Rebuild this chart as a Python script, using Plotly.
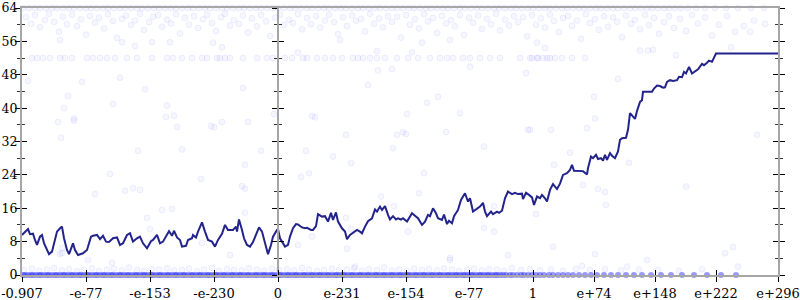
import plotly.graph_objects as go

# ---- axis ticks (x positions are in the chart's own ordinal units) ----
X_TICKS = [-256, -192, -128, -64, 0, 64, 128, 191, 255, 316, 377, 438, 500]
X_LABELS = ["-0.907", "-e-77", "-e-153", "-e-230", "0", "e-231", "e-154",
            "e-77", "1", "e+74", "e+148", "e+222", "e+296"]
Y_TICKS = [0, 8, 16, 24, 32, 40, 48, 56, 64]
Y_MINOR = [4, 12, 20, 28, 36, 44, 52, 60]

# ---- main line ----
LINE_X = [-256, -250, -248, -245, -243, -241, -238, -236, -234, -232,
          -229, -226, -223, -221, -218, -216, -214, -211, -209, -205,
          -203, -200, -195, -191, -187, -185, -181, -178, -175, -172,
          -169, -165, -161, -158, -155, -151, -148, -145, -141, -138,
          -135, -131, -127, -125, -121, -118, -115, -111, -109, -106,
          -104, -101, -98, -96, -92, -90, -86, -85, -82, -80,
          -76, -73, -70, -66, -63, -60, -56, -53, -50, -45,
          -42, -41, -39, -36, -34, -31, -28, -25, -21, -19,
          -16, -14, -12, -10, -7, -5, -1, 0, 2, 4,
          7, 10, 12, 15, 18, 20, 24, 27, 29, 33,
          35, 38, 40, 44, 47, 50, 53, 55, 58, 60,
          64, 67, 69, 72, 75, 79, 82, 84, 87, 90,
          94, 97, 99, 102, 104, 107, 110, 112, 115, 118,
          120, 123, 125, 129, 131, 134, 137, 140, 144, 147,
          150, 152, 155, 158, 160, 164, 166, 169, 171, 174,
          176, 180, 183, 187, 190, 192, 195, 199, 202, 205,
          207, 209, 213, 215, 219, 221, 224, 227, 230, 234,
          237, 240, 244, 245, 248, 251, 254, 256, 259, 262,
          264, 267, 269, 272, 275, 279, 282, 285, 289, 292,
          294, 296, 300, 305, 309, 310, 313, 315, 318, 320,
          323, 325, 327, 329, 332, 334, 337, 340, 342, 344,
          348, 350, 352, 354, 357, 359, 362, 364, 365, 370,
          374, 376, 379, 382, 385, 387, 389, 392, 395, 399,
          401, 404, 406, 408, 411, 414, 417, 420, 424, 426,
          429, 431, 434, 438, 500]
LINE_Y = [9.6, 11.0, 9.8, 9.9, 8.4, 7.2, 9.2, 9.6, 7.6, 6.4,
          5.0, 5.6, 8.8, 10.4, 11.2, 11.6, 8.8, 6.0, 5.0, 7.6,
          6.0, 4.8, 5.2, 6.0, 9.2, 9.4, 9.6, 8.6, 9.4, 8.0,
          7.9, 8.8, 9.0, 7.2, 7.6, 9.6, 10.0, 8.0, 8.8, 9.2,
          7.6, 6.4, 8.1, 8.4, 9.6, 7.6, 8.0, 9.8, 10.5, 9.4,
          10.6, 9.0, 8.4, 6.8, 7.0, 8.4, 8.8, 9.6, 9.0, 10.4,
          12.6, 10.4, 8.4, 8.0, 6.8, 8.4, 9.9, 12.0, 10.8, 10.8,
          11.6, 10.4, 13.3, 10.8, 8.8, 7.2, 6.8, 7.9, 10.4, 11.4,
          10.4, 8.4, 6.4, 5.0, 7.2, 9.2, 10.8, 11.0, 8.8, 8.0,
          6.8, 7.2, 9.2, 11.2, 12.2, 12.1, 11.4, 11.2, 11.3, 10.8,
          10.8, 11.7, 14.6, 14.0, 14.1, 12.8, 14.9, 13.2, 15.0, 12.8,
          11.2, 10.4, 8.6, 9.6, 10.1, 10.8, 10.4, 10.0, 11.6, 12.9,
          13.6, 15.7, 15.2, 16.4, 15.6, 16.5, 14.4, 13.3, 14.1, 13.3,
          13.6, 13.3, 13.6, 12.8, 13.6, 14.8, 14.2, 13.6, 12.0, 12.8,
          14.4, 14.1, 16.0, 14.8, 13.6, 13.2, 14.5, 12.2, 13.0, 12.4,
          14.1, 15.6, 18.0, 19.6, 17.6, 18.4, 15.2, 16.0, 16.4, 17.3,
          15.2, 14.1, 15.2, 14.6, 15.2, 14.9, 15.4, 18.4, 20.0, 19.4,
          19.7, 19.4, 19.5, 18.2, 19.7, 19.2, 18.6, 16.8, 18.8, 18.4,
          19.2, 18.4, 17.6, 20.4, 21.8, 20.6, 21.9, 24.0, 24.4, 25.2,
          26.4, 25.0, 25.0, 24.9, 24.1, 25.6, 28.4, 28.0, 28.8, 27.8,
          28.0, 27.4, 28.8, 27.6, 29.2, 28.6, 28.0, 29.6, 32.4, 32.8,
          32.9, 34.8, 38.8, 38.3, 37.4, 39.3, 41.5, 41.9, 43.9, 43.9,
          43.9, 44.7, 45.4, 45.3, 44.9, 45.0, 46.3, 46.7, 46.5, 46.7,
          47.5, 47.4, 48.7, 48.3, 49.9, 48.3, 48.7, 49.3, 50.6, 50.3,
          50.9, 51.4, 51.1, 53.1, 53.1]

# ---- faint scatter samples ----
BAND0_X = [-255, -253, -250, -247, -245, -242, -239, -237, -234, -231, -229, -226,
           -223, -221, -218, -215, -213, -210, -207, -205, -202, -199, -197, -194,
           -191, -189, -186, -183, -181, -178, -175, -173, -170, -167, -165, -162,
           -159, -157, -154, -151, -149, -146, -143, -141, -138, -135, -133, -130,
           -127, -125, -122, -119, -117, -114, -111, -109, -106, -103, -101, -98,
           -95, -93, -90, -87, -85, -82, -79, -77, -74, -71, -69, -66, -63, -61,
           -58, -55, -53, -50, -47, -45, -42, -39, -37, -34, -31, -29, -26, -23,
           -21, -18, -15, -13, -10, -7, -5, -2, 1, 3, 6, 9, 11, 14, 17, 19, 22, 25,
           27, 30, 33, 35, 38, 41, 43, 46, 49, 51, 54, 57, 59, 62, 65, 67, 70, 73,
           75, 78, 81, 83, 86, 89, 91, 94, 97, 99, 102, 105, 107, 110, 113, 115,
           118, 121, 123, 126, 129, 131, 134, 137, 139, 142, 145, 147, 150, 153,
           155, 158, 161, 163, 166, 169, 171, 174, 177, 179, 182, 185, 187, 190,
           193, 195, 198, 201, 203, 206, 209, 211, 214, 217, 219, 222, 225, 228,
           232, 235, 239, 243, 246, 250, 254, 258, 262, 266, 271, 275, 280, 285,
           290, 295, 301, 307, 313, 319, 326, 333, 340, 348, 356, 364, 373, 383,
           393, 404, 416, 429, 443, 458]

BAND1_X = [-254, -246, -239, -231, -224, -216, -209, -201, -194, -186,
           -179, -171, -164, -156, -149, -141, -134, -126, -119, -111,
           -104, -96, -89, -81, -74, -66, -59, -51, -44, -36,
           -29, -21, -14, -6, 1, 9, 16, 24, 31, 39,
           46, 54, 61, 69, 76, 84, 91, 99, 106, 114,
           121, 129, 136, 144, 151, 159, 166, 174, 181, 189,
           196, 204, 211, 219, 226, 234, 243, 252, 262, 273,
           285, 298, 312, 327, 343, 361, 380, 401, 424]
BAND1_Y = [1.2, 1.5, 1.0, 1.3, 1.7, 1.1, 1.4, 0.9, 1.2, 1.6,
           1.0, 1.3, 1.5, 1.1, 1.8, 1.2, 1.0, 1.4, 1.3, 1.6,
           1.1, 1.2, 1.5, 0.9, 1.3, 1.7, 1.0, 1.4, 1.2, 1.1,
           1.6, 1.3, 1.0, 1.5, 1.2, 1.4, 1.1, 1.7, 1.3, 1.0,
           1.2, 1.5, 1.1, 1.3, 1.6, 1.0, 1.4, 1.2, 1.8, 1.1,
           1.3, 1.0, 1.5, 1.2, 1.4, 1.1, 1.6, 1.3, 1.0, 1.2,
           1.5, 1.1, 1.4, 1.3, 1.0, 1.7, 1.2, 1.4, 1.1, 1.3,
           1.0, 1.5, 1.2, 1.4, 1.1, 1.3, 1.2, 1.0, 1.4]

TOP_X = [-255, -249, -243, -238, -232, -226, -221, -215, -209, -204, -198, -192,
         -187, -181, -175, -170, -164, -158, -153, -147, -141, -136, -130, -124,
         -119, -113, -107, -102, -96, -90, -85, -79, -73, -68, -62, -56, -51, -45,
         -39, -34, -28, -22, -17, -11, -5, 0, 6, 12, 17, 23, 29, 34, 40, 46, 51,
         57, 63, 68, 74, 80, 85, 91, 97, 102, 108, 114, 119, 125, 131, 136, 142,
         148, 153, 159, 165, 170, 176, 182, 187, 193, 199, 204, 210, 216, 221,
         227, 233, 238, 244, 250, 255, 261, 267, 272, 278, 284, 289, 295, 301,
         306, 312, 318, 323, 329, 335, 340, 346, 352, 357, 363, 369, 374, 380,
         386, 391, 397, 403, 410, 418, 427, 437, 448, 460, 473, 486]

ROW52_X = [-246, -241, -235, -228, -218, -213, -206, -191, -185, -178, -171, -163,
           -151, -141, -126, -111, -105, -96, -86, -76, -71, -61, -58, -53, -48,
           -35, -21, -11, -5, 7, 14, 25, 29, 39, 47, 55, 64, 75, 80, 85, 92, 99,
           107, 119, 130, 140, 152, 162, 169, 175, 185, 192, 202, 212, 222, 242,
           252, 254, 259, 260, 265, 269, 272, 277, 284, 294, 307]

CLOUD_X = [-252, -247, -243, -238, -233, -229, -224, -219, -215, -211, -206, -201,
           -197, -192, -188, -183, -179, -174, -170, -165, -161, -156, -152, -147,
           -143, -138, -134, -129, -125, -120, -116, -111, -107, -102, -98, -93,
           -89, -84, -80, -75, -71, -66, -62, -57, -53, -48, -44, -39, -35, -30,
           -26, -21, -17, -12, -8, -3, 2, 6, 11, 15, 20, 24, 29, 33, 38, 42, 47,
           51, 56, 60, 65, 69, 74, 78, 83, 87, 92, 96, 101, 105, 110, 114, 119,
           123, 128, 132, 137, 141, 146, 150, 155, 159, 164, 168, 173, 177, 182,
           186, 191, 195, 200, 204, 209, 213, 218, 222, 227, 231, 236, 240, 245,
           249, 254, 258, 263, 267, 272, 276, 281, 285, 290, 294, 299, 303, 308,
           312, 317, 321, 326, 330, 335, 339, 344, 348, 353, 357, 362, 367, 371,
           376, 381, 386, 391, 396, 402, 408, 414, 420, 427, 434, 441, 449, 457,
           466, 476, 487]
CLOUD_Y = [61.8, 60.2, 62.3, 59.4, 61.1, 62.6, 60.7, 58.3, 61.9, 60.1, 62.4, 59.7,
           61.3, 57.6, 62.1, 60.5, 61.7, 59.1, 62.5, 60.9, 56.8, 61.4, 62.2, 59.9,
           61.0, 62.6, 58.7, 60.6, 61.9, 62.3, 59.5, 61.2, 60.3, 62.5, 57.9, 61.6,
           60.0, 62.0, 59.2, 61.3, 62.4, 60.4, 58.5, 61.8, 62.6, 59.8, 61.1, 60.2,
           62.2, 58.1, 61.5, 59.6, 62.3, 60.8, 57.3, 61.7, 62.4, 59.9, 61.2, 60.4,
           62.5, 58.9, 61.6, 60.1, 62.1, 59.3, 61.0, 62.4, 60.6, 57.7, 61.8, 59.7,
           62.2, 60.9, 61.4, 58.4, 62.6, 60.2, 61.5, 59.4, 62.0, 60.7, 61.9, 56.9,
           62.3, 60.0, 61.3, 59.1, 62.5, 60.8, 61.6, 58.0, 62.1, 60.3, 61.1, 59.6,
           62.4, 57.5, 61.7, 60.5, 62.2, 59.0, 61.4, 60.1, 62.6, 58.6, 61.2, 59.8,
           62.0, 60.6, 61.8, 57.2, 62.3, 60.0, 61.5, 59.3, 62.4, 60.9, 58.2, 61.6,
           62.1, 59.7, 61.0, 56.6, 62.5, 60.4, 61.3, 58.8, 62.0, 59.5, 61.8, 60.7,
           57.0, 62.2, 60.2, 61.1, 58.9, 62.4, 59.9, 61.6, 57.8, 60.6, 62.0, 59.2,
           61.4, 58.5, 62.3, 60.3, 61.7, 57.4, 60.0, 62.1, 58.3, 59.7, 61.0, 60.2]

SPARSE_X = [-250, -196, -158, -133, -210, -35, -220, -214, -217, -204, -204, -165,
            -183, -168, -153, -145, -138, -140, -131, -128, -116, -106, -112, -111,
            -104, -101, -96, -77, -67, -64, -56, -30, -36, -33, -33, -33, -17, -4,
            149, 34, 37, 129, 182, 68, 119, 125, 128, 168, 250, 28, 115, 206, 55,
            73, 23, 31, 146, 141, 103, 116, 216, 258, 68, 34, 73, 130, 206, 20, 69,
            216, 230, 172, 340, 316, 317, 309, 273, 252, 292, 276, 351, 305, 320,
            327, 328, 408, 398, 362, 370, 375, 453, 479, 472, 275, 317, 369, 447,
            455, 304, 349, 460, 172, -216, -190, -166, -76, -48, 77, -216, -218,
            99, 134, 100, 114, 90, 160, 192, 248, 20, 259, 267, 172, 144, 62,
            -218, -156, -143, -126, -108, -65, -56]
SPARSE_Y = [46.5, 46.3, 47.3, 44.5, 42.9, 44.8, 36.7, 40.0, 32.9, 37.5, 37.0, 41.0,
            19.4, 24.2, 20.2, 20.8, 20.4, 29.8, 13.7, 11.0, 15.6, 15.8, 37.9, 40.6,
            38.2, 35.5, 30.1, 23.0, 35.7, 35.4, 36.7, 36.7, 21.3, 20.7, 26.4, 14.9,
            29.8, 38.6, 41.3, 38.1, 37.8, 38.6, 38.8, 33.6, 33.6, 34.2, 33.8, 34.3,
            34.8, 29.8, 30.4, 30.8, 28.4, 26.8, 23.5, 24.4, 24.4, 19.6, 18.8, 16.5,
            16.5, 14.6, 13.7, 9.2, 11.0, 10.4, 11.3, 7.2, 6.3, 10.4, 4.8, 4.1, 47.0,
            42.7, 37.5, 35.2, 34.8, 34.8, 29.3, 26.4, 26.9, 21.6, 20.6, 19.9, 16.8,
            21.2, 52.7, 53.8, 53.8, 54.0, 54.6, 33.6, 58.3, 6.8, 5.0, 3.6, 5.2, 6.7,
            2.2, 2.0, 2.0, 3.6, 5.3, 3.6, 2.9, 7.7, 4.8, 2.0, 6.5, 5.0,
            53.7, 53.4, 49.0, 49.4, 45.5, 42.7, 49.9, 48.4, 53.3, 55.7, 54.4, 56.3,
            55.7, 56.3, 56.3, 55.8, 54.9, 55.8, 55.8, 55.7, 54.6]

# ---- styling ----
FONT = dict(family="DejaVu Serif", size=13, color="black")
YFONT = dict(family="DejaVu Serif", size=12.5, color="black")
AXIS_GREY = "#a6a6a6"
LINE_COLOR = "#23238c"
faint = dict(size=6, color="rgba(0,0,255,0.035)",
             line=dict(color="rgba(0,0,255,0.06)", width=1))
strong = dict(size=6, color="rgba(0,0,255,0.4)", line=dict(width=0))

fig = go.Figure()


def dots(x, y, marker):
    fig.add_trace(go.Scatter(x=x, y=y, mode="markers", marker=marker,
                             cliponaxis=False, showlegend=False, hoverinfo="skip"))


dots(CLOUD_X, CLOUD_Y, faint)
dots(TOP_X, [64] * len(TOP_X), faint)
dots(ROW52_X, [52] * len(ROW52_X), faint)
dots(SPARSE_X, SPARSE_Y, faint)
dots(BAND1_X, BAND1_Y, faint)
dots(BAND0_X, [0] * len(BAND0_X), strong)

fig.add_trace(go.Scatter(x=LINE_X, y=LINE_Y, mode="lines",
                         line=dict(color=LINE_COLOR, width=2),
                         showlegend=False, hoverinfo="skip"))

# empty helper traces so the overlay axes (crossing tick marks) are drawn
for xa, ya in [("x2", "y"), ("x", "y2"), ("x", "y3"), ("x", "y4"), ("x", "y5")]:
    fig.add_trace(go.Scatter(x=[None], y=[None], xaxis=xa, yaxis=ya,
                             showlegend=False, hoverinfo="skip"))

XR = [X_TICKS[0], X_TICKS[-1]]
YR = [Y_TICKS[0], Y_TICKS[-1]]
mid_pos = (0 - XR[0]) / (XR[1] - XR[0])

common_y = dict(range=YR, tickmode="array", tickvals=Y_TICKS, showgrid=False,
                zeroline=False, tickcolor="black", tickwidth=1, ticklen=5,
                showline=True, linecolor=AXIS_GREY, linewidth=2, fixedrange=True,
                automargin=False)


def minor(side):
    return dict(tickmode="array", tickvals=Y_MINOR, ticks=side, ticklen=3,
                tickcolor="#333333", tickwidth=1)


fig.update_layout(
    width=800, height=300,
    margin=dict(l=22, r=22, t=8, b=25),
    paper_bgcolor="white", plot_bgcolor="white",
    font=FONT,
    xaxis=dict(range=XR, tickmode="array", tickvals=X_TICKS, ticktext=X_LABELS,
               ticks="outside", ticklen=5, tickcolor="black", tickwidth=1,
               showline=True, linecolor=AXIS_GREY, linewidth=2, mirror=True,
               showgrid=False, zeroline=False, tickfont=FONT, fixedrange=True,
               automargin=False),
    xaxis2=dict(range=XR, overlaying="x", anchor="y", side="bottom",
                tickmode="array", tickvals=X_TICKS, ticks="inside", ticklen=5,
                tickcolor="black", showticklabels=False, showline=False,
                showgrid=False, zeroline=False, fixedrange=True, automargin=False),
    # labelled axis: no own ticks so labels sit close to the axis line
    yaxis=dict(**common_y, ticks="", tickfont=YFONT),
    yaxis5=dict(**common_y, ticks="outside", mirror="allticks", overlaying="y",
                minor=minor("outside"), showticklabels=False),
    yaxis2=dict(**common_y, ticks="inside", mirror="allticks", overlaying="y",
                minor=minor("inside"), showticklabels=False),
    yaxis3=dict(**common_y, ticks="outside", overlaying="y", anchor="free",
                position=mid_pos, minor=minor("outside"), showticklabels=False),
    yaxis4=dict(**common_y, ticks="inside", overlaying="y", anchor="free",
                position=mid_pos, minor=minor("inside"), showticklabels=False),
)

fig.write_html("out.html")
